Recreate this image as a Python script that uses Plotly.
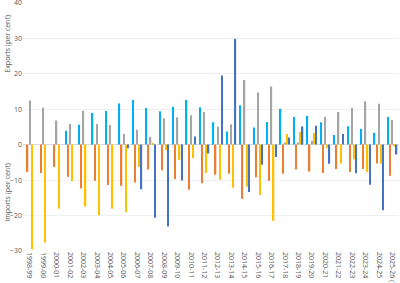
import plotly.graph_objects as go

# financial years (f = forecast)
years = ['1998-99', '1999-00', '2000-01', '2001-02', '2002-03', '2003-04', '2004-05',
         '2005-06', '2006-07', '2007-08', '2008-09', '2009-10', '2010-11', '2011-12',
         '2012-13', '2013-14', '2014-15', '2015-16', '2016-17', '2017-18', '2018-19',
         '2019-20', '2020-21', '2021-22', '2022-23', '2023-24', '2024-25', '2025-26 (f)']

# values (per cent)
light_blue = [0, 0, 0, 3.9, 5.6, 8.9, 9.5, 11.6, 12.6, 10.3, 9.4, 10.7, 12.6, 10.5,
              6.3, 3.7, 11.1, 4.8, 6.4, 10.1, 7.8, 8.1, 6.3, 2.7, 5.2, 4.4, 3.3, 7.8]
orange = [-7.7, -8.0, -6.3, -9.1, -12.4, -10.2, -11.4, -11.6, -10.7, -7.0, -7.2, -9.7,
          -12.7, -10.9, -8.5, -8.2, -15.3, -9.2, -10.2, -8.2, -7.0, -7.6, -8.0, -6.9,
          -7.7, -6.9, -5.3, -8.8]
grey = [12.4, 10.4, 6.8, 5.8, 9.5, 5.8, 5.5, 3.0, 4.2, 2.2, 7.4, 7.7, 8.3, 9.2,
        5.0, 5.7, 18.2, 14.7, 16.4, 0.6, 0.6, 1.1, 7.8, 9.2, 10.4, 12.2, 11.5, 6.9]
yellow = [-29.6, -27.6, -18.1, -10.3, -17.4, -19.9, -18.1, -19.1, -6.3, 0.2, -1.5, -4.3,
          -3.8, -8.0, -9.9, -12.2, -11.9, -14.2, -21.5, 3.0, 3.6, 3.3, -1.0, -5.4,
          -4.1, -7.7, -5.4, -0.5]
dark_blue = [None, None, None, None, None, None, None, -1.0, -12.6, -20.6, -23.1, -10.1,
             2.3, -2.5, 19.5, 29.8, -13.4, -5.7, -3.5, 2.0, 5.1, 5.3, -5.4, 3.0,
             -8.1, -11.3, -18.5, -2.8]

series = [
    ('Series 1', light_blue, '#00B0F0'),
    ('Series 2', orange, '#ED7D31'),
    ('Series 3', grey, '#A5A5A5'),
    ('Series 4', yellow, '#FFC000'),
    ('Series 5', dark_blue, '#4472C4'),
]

fig = go.Figure()
for name, vals, col in series:
    fig.add_trace(go.Bar(x=years, y=vals, name=name, marker_color=col,
                         marker_line_width=0))

fig.update_layout(
    width=400, height=283,
    margin=dict(l=23, r=1, t=2, b=32),
    barmode='group', bargap=0.2, bargroupgap=0.35,
    showlegend=False,
    plot_bgcolor='white', paper_bgcolor='white',
    font=dict(family='Open Sans', size=7, color='#595959'),
)
fig.update_xaxes(type='category', tickangle=90, tickfont=dict(size=7), showgrid=False,
                 showline=False, ticks='', automargin=False)
fig.update_yaxes(range=[-30, 40.2], tickvals=[-30, -20, -10, 0, 10, 20, 30, 40],
                 gridcolor='#EEF0F5', gridwidth=1, ticklabeloverflow='allow',
                 zeroline=True, zerolinecolor='#D9D9D9', zerolinewidth=1,
                 tickfont=dict(size=7), automargin=False)

# split axis titles
for txt, yv in [('Exports (per cent)', 28.5), ('Imports (per cent)', -13.5)]:
    fig.add_annotation(text=txt, xref='paper', yref='y', x=-0.042, y=yv,
                       textangle=-90, showarrow=False, font=dict(size=7, color='#595959'),
                       xanchor='center', yanchor='middle')

# page has a default body margin; drop it so the chart sits at the window edge
fig.write_html('out.html', config={'displayModeBar': False},
               post_script="document.body.style.margin='0';")
